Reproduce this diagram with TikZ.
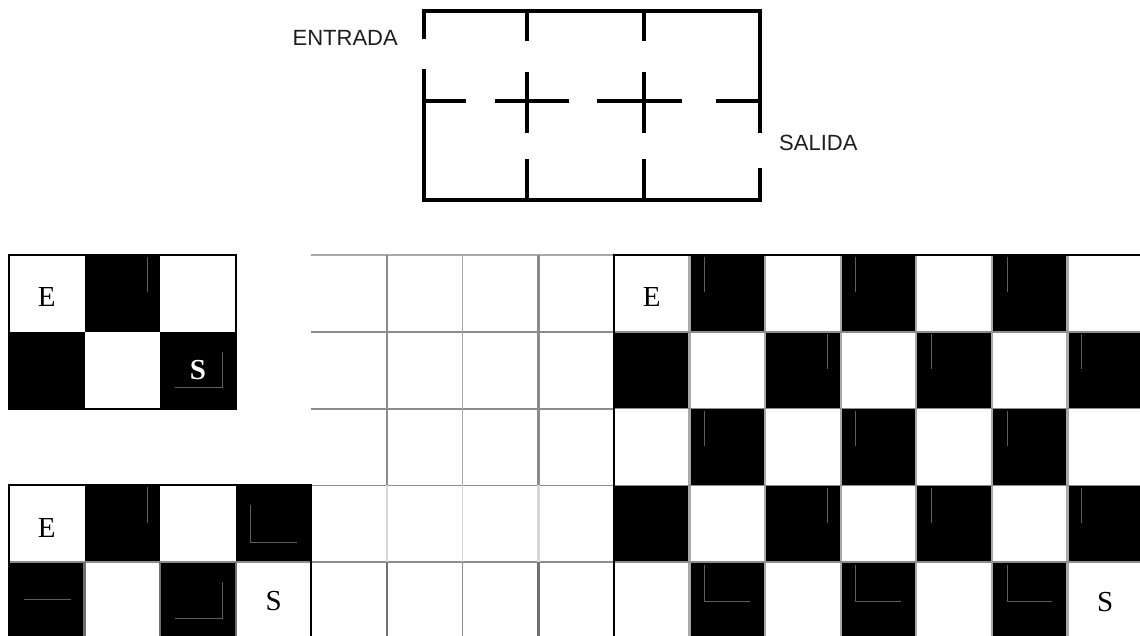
\documentclass[tikz,border=0pt]{standalone}
\usepackage{fontspec}
\usepackage{xcolor}
\newfontfamily\mazefont{Liberation Sans}
\newfontfamily\cellfont{Liberation Serif}
\definecolor{seam}{HTML}{8C8C8C}
\definecolor{seamlight}{HTML}{A8A8A8}
\definecolor{seamfaint}{HTML}{D6D6D6}
\definecolor{seamdark}{HTML}{707070}
\definecolor{ghost}{HTML}{5E5E5E}
\definecolor{ink}{HTML}{1E1E1E}
\tikzset{
  wall/.style={draw=black, line width=3.6pt, line join=miter},
  tag/.style={font=\mazefont\fontsize{22}{22}\selectfont, text=ink, inner sep=0pt},
  cellmark/.style={font=\cellfont\fontsize{29}{29}\selectfont, inner sep=0pt},
  boldmark/.style={font=\cellfont\bfseries\fontsize{29}{29}\selectfont, inner sep=0pt, text=white},
  darkcell/.style={fill=black},
  boardline/.style={draw=black, line width=2pt},
  seamline/.style={draw=seam, line width=2pt},
  ghostline/.style={draw=ghost, line width=0.7pt}
}
\begin{document}
\begin{tikzpicture}[x=1pt,y=-1pt]
  \useasboundingbox (0,0) rectangle (1140,635);
  \clip (0,0) rectangle (1140,635);

  % maze with entry and exit
  \draw[wall] (424,39) -- (424,11) -- (760,11) -- (760,133);
  \draw[wall] (760,168) -- (760,200) -- (424,200) -- (424,69);
  \foreach \xa/\xb in {424/466,495/569,597/682,716/762}
    \draw[wall] (\xa,101) -- (\xb,101);
  \foreach \xw in {527,644} {
    \draw[wall] (\xw,11) -- (\xw,41);
    \draw[wall] (\xw,72) -- (\xw,133);
    \draw[wall] (\xw,159) -- (\xw,200);
  }
  \node[tag,anchor=east] (entrada) at (398,38) {ENTRADA};
  \node[tag,anchor=west] (salida) at (779,143) {SALIDA};

  % boards, one cell = one unit
  \begin{scope}[shift={(9pt,-255pt)},x=75.6pt,y=-76.8pt]
    \foreach \c/\r in {1/0,0/1,2/1,1/3,3/3,0/4,2/4}
      \fill[darkcell] (\c,\r) rectangle ++(1,1);
    \foreach \r in {0,...,4}
      \foreach \c in {8,...,14} {
        \ifodd\numexpr\c+\r\relax
          \fill[darkcell] (\c,\r) rectangle ++(1,1);
        \fi
      }

    % middle grid
    \draw[draw=seamlight,line width=1.5pt] (4,0) -- (8,0);
    \foreach \r in {1,...,4}
      \draw[seamline,line width=1.8pt] (4,\r) -- (8,\r);
    \foreach \c in {5,7} {
      \draw[seamline,line width=2.6pt] (\c,0) -- (\c,3);
      \draw[draw=seamfaint,line width=2.6pt] (\c,3) -- (\c,4);
      \draw[draw=seamdark,line width=2.6pt] (\c,4) -- (\c,5);
    }
    \draw[draw=seamlight,line width=1.5pt] (6,0) -- (6,3);
    \draw[draw=seamfaint,line width=1.5pt] (6,3) -- (6,4);
    \draw[draw=seam,line width=1.5pt] (6,4) -- (6,5);

    % right board seams
    \foreach \c in {9,...,14}
      \draw[draw=seamlight,line width=2.2pt] (\c,0) -- (\c,5);
    \foreach \r in {1,...,4}
      \draw[seamline,line width=1.6pt] (8,\r) -- (15,\r);

    % bottom left seams
    \draw[seamline,line width=1.5pt] (0,4) -- (4,4);
    \foreach \c in {1,2,3}
      \draw[draw=seamdark,line width=2.5pt] (\c,4) -- (\c,5);

    % borders
    \draw[boardline] (0,0) rectangle (3,2);
    \draw[boardline] (0,5.1) -- (0,3) -- (4,3) -- (4,5.1);
    \draw[boardline,line width=1.5pt] (8,5.1) -- (8,0) -- (15,0);

    % faint marks inside dark cells
    \draw[ghostline] (1.825,0.02) -- (1.825,0.48);
    \draw[ghostline] (2.196,1.72) -- (2.817,1.72) -- (2.817,1.26);
    \draw[ghostline] (1.825,3.02) -- (1.825,3.49);
    \draw[ghostline] (3.19,3.255) -- (3.19,3.737) -- (3.81,3.737);
    \draw[ghostline] (0.2,4.48) -- (0.82,4.48);
    \draw[ghostline] (2.196,4.73) -- (2.817,4.73) -- (2.817,4.26);
    \foreach \c in {9,11,13} {
      \draw[ghostline] (\c+0.2,0.02) -- (\c+0.2,0.48);
      \draw[ghostline] (\c+0.2,2.03) -- (\c+0.2,2.49);
      \draw[ghostline] (\c+0.2,4.04) -- (\c+0.2,4.51) -- (\c+0.8,4.51);
    }
    \foreach \xg in {10.82,12.2,14.19} {
      \draw[ghostline] (\xg,1.03) -- (\xg,1.48);
      \draw[ghostline] (\xg,3.03) -- (\xg,3.49);
    }

    % entry and exit letters
    \node[cellmark] (eA) at (0.5,0.55) {E};
    \node[boldmark] (sA) at (2.5,1.5) {S};
    \node[cellmark] (eB) at (0.5,3.55) {E};
    \node[cellmark] (sB) at (3.5,4.5) {S};
    \node[cellmark] (eC) at (8.5,0.55) {E};
    \node[cellmark] (sC) at (14.5,4.52) {S};
  \end{scope}
\end{tikzpicture}
\end{document}
